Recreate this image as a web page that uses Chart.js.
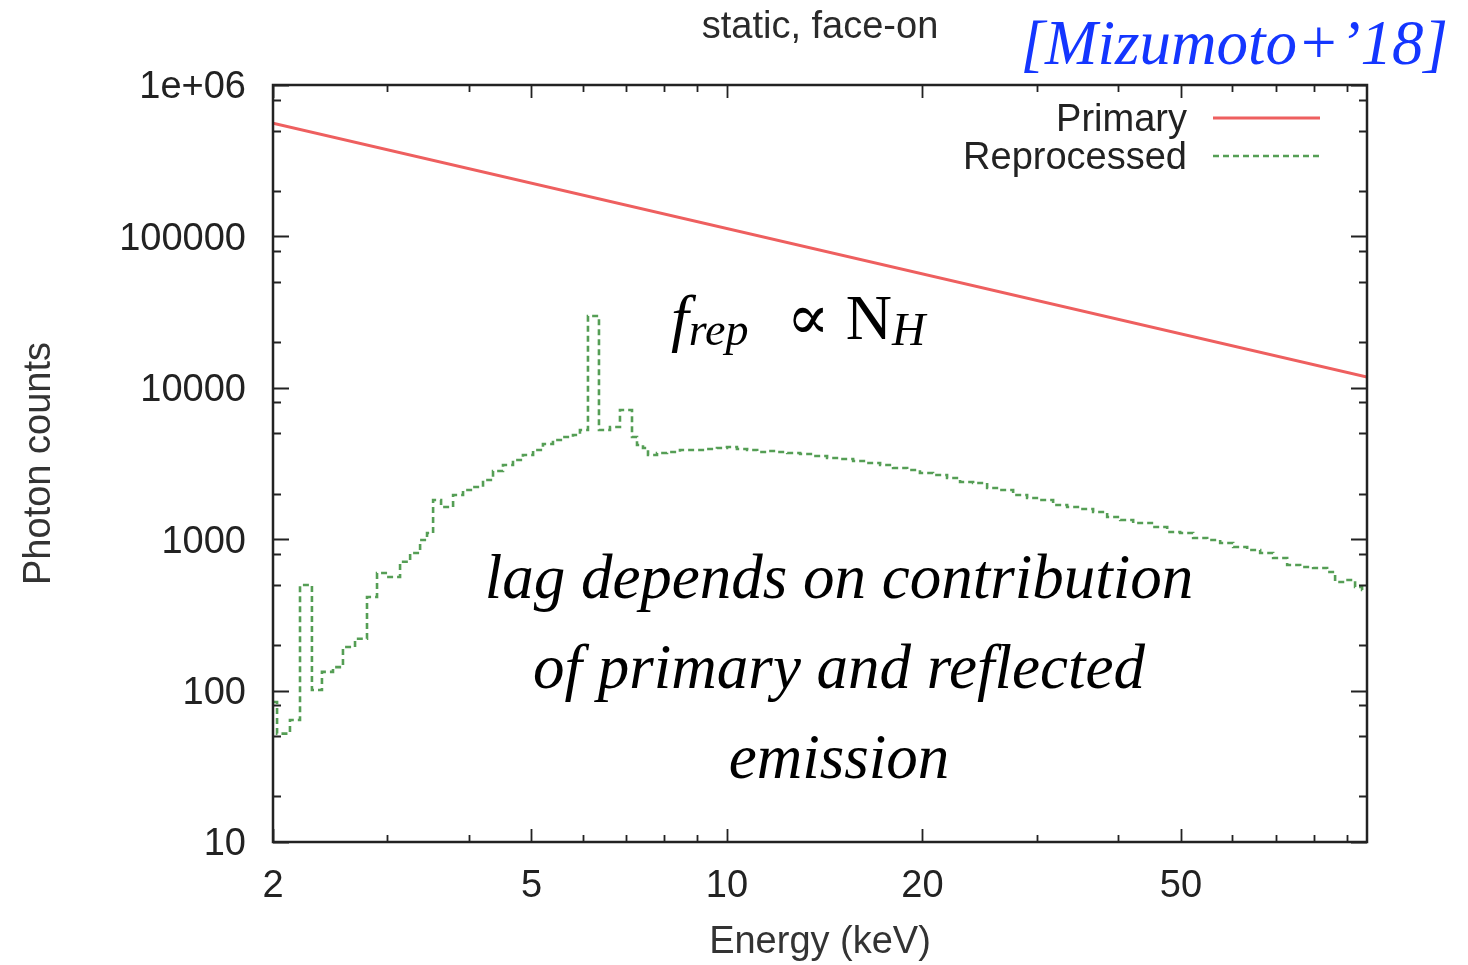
<!DOCTYPE html>
<html>
<head>
<meta charset="utf-8">
<title>static, face-on</title>
<script src="https://cdn.jsdelivr.net/npm/chart.js@4.4.1/dist/chart.umd.min.js"></script>
<style>
  html, body { margin: 0; padding: 0; background: #fff; }
  #wrap { position: relative; width: 1468px; height: 965px; overflow: hidden; }
  #chart { position: absolute; left: 0; top: 0; }
  .note { position: absolute; font-family: "Liberation Serif", "DejaVu Serif", serif; font-style: italic; white-space: nowrap; }
  #cite { right: 20px; top: 12px; font-size: 63px; line-height: 1; color: #1436ff; }
  #frep { left: 671px; top: 286px; font-size: 64px; line-height: 1; color: #000; }
  #frep sub { font-size: 0.72em; vertical-align: -0.12em; line-height: 0; }
  #frep .up { font-style: normal; margin-left: 6px; }
  #lag { left: 439px; width: 800px; top: 532px; font-size: 63px; line-height: 90px; text-align: center; color: #000; }
</style>
</head>
<body>
<div id="wrap">
  <canvas id="chart" width="1468" height="965"></canvas>
  <div class="note" id="cite">[Mizumoto+’18]</div>
  <div class="note" id="frep">f<sub>rep</sub>&nbsp;&nbsp;<span class="up">∝ N</span><sub>H</sub></div>
  <div class="note" id="lag">lag depends on contribution<br>of primary and reflected<br>emission</div>
</div>
<script>
// Reprocessed spectrum: step histogram, left bin edges (keV) and photon counts
const reprocessedEnergy = [2.000, 2.029, 2.124, 2.201, 2.296, 2.379, 2.474, 2.563, 2.675, 2.791,
  2.892, 2.997, 3.138, 3.252, 3.369, 3.453, 3.528, 3.629, 3.787, 3.923,
  4.064, 4.211, 4.363, 4.520, 4.683, 4.851, 5.029, 5.208, 5.396, 5.591,
  5.793, 5.938, 6.109, 6.352, 6.605, 6.843, 7.141, 7.269, 7.425, 7.558,
  7.803, 8.085, 8.465, 8.864, 9.315, 9.651, 10.00, 10.36, 10.74, 11.13,
  11.53, 11.95, 12.38, 12.96, 13.57, 14.26, 14.93, 15.64, 16.43, 17.21,
  18.02, 18.94, 19.82, 20.76, 21.82, 22.85, 23.93, 25.15, 26.34, 27.58,
  28.98, 30.35, 31.78, 33.40, 34.97, 36.62, 38.49, 40.31, 42.21, 45.31,
  47.62, 49.86, 52.21, 54.87, 57.46, 60.17, 63.23, 66.21, 69.33, 72.86,
  76.29, 79.89, 83.94, 86.36, 89.48, 92.70, 95.03, 96.7];
const reprocessedCounts = [84, 52, 64, 498, 101, 133, 143, 194, 220, 415,
  598, 563, 710, 811, 988, 1099, 1815, 1632, 1959, 2113,
  2212, 2460, 2821, 3091, 3336, 3598, 3884, 4255, 4521, 4732,
  4879, 5265, 29800, 5265, 5510, 7136, 4732, 4190, 4003, 3598,
  3709, 3767, 3884, 3884, 3944, 4003, 4064, 3944, 3884, 3767,
  3824, 3767, 3709, 3653, 3544, 3439, 3386, 3285, 3186, 3091,
  2953, 2865, 2737, 2655, 2537, 2387, 2351, 2179, 2113, 1959,
  1871, 1815, 1682, 1632, 1583, 1512, 1401, 1339, 1279, 1204,
  1116, 1099, 1019, 988, 944, 888, 848, 811, 751, 675,
  655, 645, 607, 522, 538, 483, 462, 462];

// Primary power law, ends of the straight line
const primaryEnergy = [2, 96.7];
const primaryCounts = [560000, 11800];

// Axes
const xMin = 2, xMax = 96.7;
const yMin = 10, yMax = 1000000;
const xTickValues = [2, 3, 4, 5, 6, 7, 8, 9, 10, 20, 30, 40, 50, 60, 70, 80, 90];
const xLabelValues = [2, 5, 10, 20, 50];
const yTickValues = [10, 20, 50, 80, 100, 200, 500, 800, 1000, 2000, 5000, 8000,
  10000, 20000, 50000, 80000, 100000, 200000, 500000, 800000, 1000000];
const yLabelValues = [10, 100, 1000, 10000, 100000, 1000000];
const yLabels = ['10', '100', '1000', '10000', '100000', '1e+06'];

const seriesNames = ['Primary', 'Reprocessed'];
const titleText = 'static, face-on';

const textFont = '"Liberation Sans", Arial, Helvetica, sans-serif';

function toPoints(xs, ys) {
    return xs.map((x, i) => ({ x: x, y: ys[i] }));
}

// gnuplot-like frame: box, inward ticks on all four sides, title and legend
const gnuplotFrame = {
    id: 'gnuplotFrame',
    afterDraw(chart) {
        const { ctx, chartArea: a, scales: { x, y } } = chart;
        ctx.save();
        ctx.strokeStyle = '#222';
        ctx.lineWidth = 1.8;
        ctx.beginPath();
        x.ticks.forEach(t => {
            const px = Math.round(x.getPixelForValue(t.value)) + 0.5;
            const len = xLabelValues.includes(t.value) ? 13 : 7;
            ctx.moveTo(px, a.bottom); ctx.lineTo(px, a.bottom - len);
            ctx.moveTo(px, a.top); ctx.lineTo(px, a.top + len);
        });
        y.ticks.forEach(t => {
            const py = Math.round(y.getPixelForValue(t.value)) + 0.5;
            const len = yLabelValues.includes(t.value) ? 16 : 8;
            ctx.moveTo(a.left, py); ctx.lineTo(a.left + len, py);
            ctx.moveTo(a.right, py); ctx.lineTo(a.right - len, py);
        });
        ctx.stroke();

        ctx.lineWidth = 2.5;
        ctx.strokeRect(a.left, a.top, a.right - a.left, a.bottom - a.top);

        // title
        ctx.fillStyle = '#2a2a2a';
        ctx.font = '38px ' + textFont;
        ctx.textAlign = 'center';
        ctx.textBaseline = 'middle';
        ctx.fillText(titleText, (a.left + a.right) / 2, 28);

        // legend, text on the left of the sample line
        const ds = chart.data.datasets;
        const rows = [121, 159];
        ctx.textAlign = 'right';
        ds.forEach((d, i) => {
            ctx.fillStyle = '#222';
            ctx.fillText(d.label, 1187, rows[i]);
            ctx.strokeStyle = d.borderColor;
            ctx.lineWidth = d.borderWidth;
            ctx.setLineDash(d.borderDash || []);
            ctx.beginPath();
            ctx.moveTo(1213, rows[i] - 3);
            ctx.lineTo(1320, rows[i] - 3);
            ctx.stroke();
        });
        ctx.restore();
    }
};

const ctx = document.getElementById('chart').getContext('2d');
const spectrumChart = new Chart(ctx, {
    type: 'line',
    data: {
        datasets: [{
            label: seriesNames[0],
            data: toPoints(primaryEnergy, primaryCounts),
            borderColor: 'rgb(238, 95, 95)',
            borderWidth: 3,
            pointRadius: 0,
            fill: false
        }, {
            label: seriesNames[1],
            data: toPoints(reprocessedEnergy, reprocessedCounts),
            borderColor: 'rgb(85, 158, 85)',
            borderWidth: 2.6,
            borderDash: [6, 4],
            stepped: true,
            pointRadius: 0,
            fill: false
        }]
    },
    options: {
        responsive: false,
        devicePixelRatio: 1,
        animation: false,
        layout: { padding: { left: 0, right: 101, top: 85, bottom: 0 } },
        plugins: {
            legend: { display: false },
            title: { display: false },
            tooltip: { enabled: false }
        },
        scales: {
            x: {
                type: 'logarithmic',
                min: xMin,
                max: xMax,
                afterBuildTicks: s => { s.ticks = xTickValues.map(v => ({ value: v })); },
                afterFit: s => { s.height = 123; },
                grid: { display: false, drawTicks: false },
                border: { display: false },
                ticks: {
                    autoSkip: false,
                    maxRotation: 0,
                    padding: 22,
                    color: '#222',
                    font: { family: textFont, size: 38 },
                    callback: v => xLabelValues.includes(v) ? String(v) : ''
                },
                title: {
                    display: true,
                    text: 'Energy (keV)',
                    color: '#333',
                    font: { family: textFont, size: 38, lineHeight: 1 },
                    padding: { top: 0, bottom: 3 }
                }
            },
            y: {
                type: 'logarithmic',
                min: yMin,
                max: yMax,
                afterBuildTicks: s => { s.ticks = yTickValues.map(v => ({ value: v })); },
                afterFit: s => { s.width = 273; },
                grid: { display: false, drawTicks: false },
                border: { display: false },
                ticks: {
                    autoSkip: false,
                    padding: 27,
                    labelOffset: 3,
                    color: '#222',
                    font: { family: textFont, size: 38 },
                    callback: v => {
                        const i = yLabelValues.indexOf(v);
                        return i >= 0 ? yLabels[i] : '';
                    }
                },
                title: {
                    display: true,
                    text: 'Photon counts',
                    color: '#333',
                    font: { family: textFont, size: 38, lineHeight: 1 },
                    padding: { top: 21, bottom: 0 }
                }
            }
        }
    },
    plugins: [gnuplotFrame]
});
</script>
</body>
</html>
